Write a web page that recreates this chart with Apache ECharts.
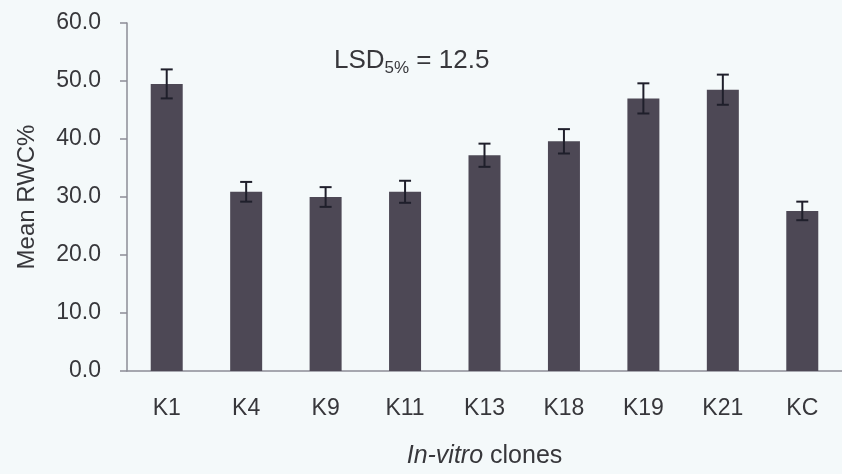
<!DOCTYPE html>
<html>
<head>
<meta charset="utf-8">
<script src="https://cdn.jsdelivr.net/npm/echarts@6/dist/echarts.min.js"></script>
<style>
html,body{margin:0;padding:0;background:#f4f9fa;}
#chart{width:842px;height:474px;}
</style>
</head>
<body>
<div id="chart"></div>
<script>
var categories = ['K1','K4','K9','K11','K13','K18','K19','K21','KC'];
var meanRWC = [49.5, 30.9, 30.0, 30.9, 37.2, 39.6, 47.0, 48.5, 27.6];
var errorRWC = [2.5, 1.7, 1.7, 1.9, 2.0, 2.1, 2.6, 2.6, 1.6];
var yTicks = [0, 10, 20, 30, 40, 50, 60];

var chart = echarts.init(document.getElementById('chart'), null, {renderer:'canvas'});
var textColor = '#37373b';
var axisColor = '#8c8c96';
var FONT = 'Liberation Sans, Arial, sans-serif';

var errData = categories.map(function(c, i){ return [i, meanRWC[i], errorRWC[i]]; });

chart.setOption({
  backgroundColor: '#f4f9fa',
  animation: false,
  grid: {left: 127, top: 23, width: 724, bottom: 101},
  xAxis: {
    type: 'category',
    data: categories,
    axisLine: {lineStyle: {color: axisColor, width: 1.5}},
    axisTick: {show: false},
    axisLabel: {color: textColor, fontSize: 23, fontFamily: FONT, margin: 26},
    name: '{i|In-vitro} clones',
    nameLocation: 'middle',
    nameGap: 73,
    nameTextStyle: {
      color: textColor, fontSize: 25, fontFamily: FONT,
      rich: {i: {fontStyle: 'italic', fontSize: 25, fontFamily: FONT, color: textColor}}
    }
  },
  yAxis: {
    type: 'value',
    min: yTicks[0],
    max: yTicks[yTicks.length-1],
    interval: 10,
    splitLine: {show: false},
    axisLine: {show: true, lineStyle: {color: axisColor, width: 1.5}},
    axisTick: {show: true, length: 7, lineStyle: {color: axisColor, width: 1.5}},
    axisLabel: {color: textColor, fontSize: 23, fontFamily: FONT, margin: 26,
      formatter: function(v){ return v.toFixed(1); }},
    name: 'Mean RWC%',
    nameLocation: 'middle',
    nameRotate: 90,
    nameGap: 88,
    nameTextStyle: {color: textColor, fontSize: 24, fontFamily: FONT}
  },
  graphic: [{
    type: 'text',
    left: 334,
    top: 48,
    style: {
      text: '{a|LSD}{b|5%}{a| = 12.5}',
      fill: textColor,
      rich: {
        a: {fontSize: 26, fontFamily: FONT, fill: textColor, lineHeight: 30, verticalAlign: 'bottom'},
        b: {fontSize: 17, fontFamily: FONT, fill: textColor, lineHeight: 20, verticalAlign: 'bottom', padding: [0,0,-3,0]}
      }
    }
  }],
  series: [{
    type: 'bar',
    data: meanRWC,
    barWidth: 32,
    itemStyle: {color: '#4d4855'}
  }, {
    type: 'custom',
    data: errData,
    z: 10,
    renderItem: function(params, api){
      var x = api.value(0), m = api.value(1), e = api.value(2);
      var hi = api.coord([x, m + e]);
      var lo = api.coord([x, m - e]);
      var hw = 6;
      var st = {stroke: '#1f1f2b', lineWidth: 2};
      return {type: 'group', children: [
        {type: 'line', shape: {x1: hi[0], y1: hi[1], x2: lo[0], y2: lo[1]}, style: st},
        {type: 'line', shape: {x1: hi[0]-hw, y1: hi[1], x2: hi[0]+hw, y2: hi[1]}, style: st},
        {type: 'line', shape: {x1: lo[0]-hw, y1: lo[1], x2: lo[0]+hw, y2: lo[1]}, style: st}
      ]};
    }
  }]
});
</script>
</body>
</html>
